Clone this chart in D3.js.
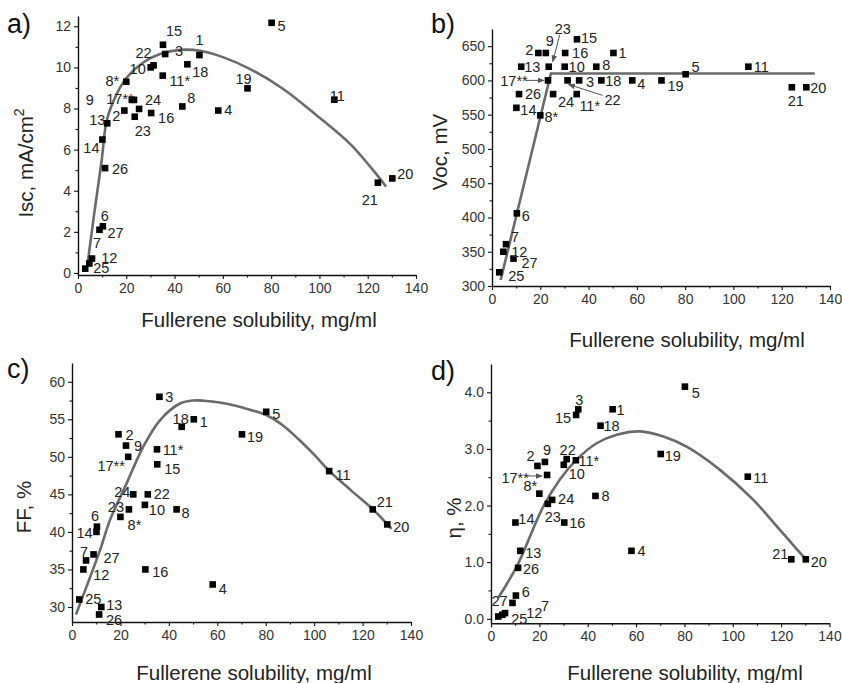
<!DOCTYPE html>
<html>
<head>
<meta charset="utf-8">
<script src="https://cdn.jsdelivr.net/npm/d3@7"></script>
<style>
body { margin: 0; background: #fff; }
svg text { font-family: "Liberation Sans", Arial, sans-serif; }
</style>
</head>
<body>
<svg id="chart" width="842" height="683"></svg>
<script>
// sample numbers and values
var samples = ["1","2","3","4","5","6","7","8","8*","9","10","11","11*","12","13","14","15","16","17**","18","19","20","21","22","23","24","25","26","27"];
var solubility = [50.3,19.2,36.1,58.1,80.2,10.3,5.8,43.2,20.0,22.3,30.1,106.2,35.1,4.7,12.1,10.1,35.2,30.3,23.2,45.3,70.2,130.2,124.2,31.3,23.5,25.3,3.0,11.2,8.9];
var isc = [10.6,7.9,10.65,7.9,12.17,2.27,0.7,8.1,9.3,8.42,10.0,8.43,9.6,0.46,7.28,6.49,11.1,7.78,8.42,10.15,8.98,4.6,4.39,10.1,7.6,7.98,0.21,5.1,2.1];
var voc = [640,640,600,600,609,406,361,620,549,640,620,620,580,350,620,560,660,640,600,600,600,590,590,600,620,580,320,580,340];
var ff = [55,53,58,33,56,40.7,36.2,43,42,51.5,43.6,48.1,51,35,30,40,49,35,50,54,53,41,43,45,43,45,31,29,37];
var eta = [3.7,2.7,3.7,1.2,4.1,0.41,0.1,2.17,2.21,2.77,2.72,2.51,2.8,0.07,1.2,1.7,3.6,1.7,2.54,3.41,2.91,1.05,1.05,2.82,2.03,2.1,0.04,0.9,0.28];

// fitted curves
var iscFitX = [3.9,6.5,9.8,11.9,16,20.2,27,34,42.3,50.5,60,71.3,85,98.9,112.7,122.3,127.6];
var iscFitY = [0.37,2.7,5.47,7.41,8.7,9.51,10.24,10.65,10.85,10.81,10.5,9.92,8.95,7.66,6.28,4.99,4.2];
var vocFitX = [3.6,24.4,133.7];
var vocFitY = [308.8,610,610];
var ffFitX = [1.65,11.6,15.7,22.6,29.5,36.4,44.6,50.1,57,65,72,80,87,94,100,106,115,124,130,132];
var ffFitY = [29,37.6,41.6,46.5,51.4,54.9,57.1,57.5,57.4,57.0,56.4,55.6,54.2,52.2,50.3,48.2,45.6,43.1,41.1,40.4];
var etaFitX = [3,10.6,21.6,28.5,35.4,43.7,52,61.6,71.3,80.9,94.7,108.5,119.5,129.2,130.6];
var etaFitY = [0.37,0.92,1.98,2.46,2.81,3.10,3.25,3.31,3.22,3.04,2.63,2.10,1.57,1.10,1.04];

var xTicks = [0,20,40,60,80,100,120,140];
var xMinor = [10,30,50,70,90,110,130];
var iscTicks = [0,2,4,6,8,10,12];
var iscMinor = [1,3,5,7,9,11];
var vocTicks = [300,350,400,450,500,550,600,650];
var vocMinor = [325,375,425,475,525,575,625];
var ffTicks = [30,35,40,45,50,55,60];
var ffMinor = [32.5,37.5,42.5,47.5,52.5,57.5];
var etaTicks = [0,1,2,3,4];
var etaMinor = [0.5,1.5,2.5,3.5];

// where each number label sits relative to its square (px)
var aLab = {"1":[0,-15],"2":[-8,5],"3":[14,-3],"4":[10,-1],"5":[10,3],"6":[2,-11],"7":[5,-16],"8":[9,-9],"8*":[-14,-1],"9":[-42,0],"10":[-13,1],"11":[3,-4],"11*":[17,5],"12":[20,-6],"13":[-10,-4],"14":[-11,8],"15":[11,-14],"16":[15,5],"17**":[-14,-1],"18":[13,7],"19":[-4,-10],"20":[13,-5],"21":[-8,17],"22":[-10,-13],"23":[8,14],"24":[14,-9],"25":[16,-1],"26":[15,1],"27":[16,3]};
var bLab = {"1":[9,0],"2":[-9,-3],"3":[11,1],"4":[9,3],"5":[10,-7],"6":[9,2],"7":[9,-7],"8":[10,-2],"8*":[11,1],"9":[4,-12],"10":[12,0],"11":[13,0],"11*":[13,12],"12":[16,0],"13":[11,0],"14":[12,2],"15":[12,-2],"16":[15,0],"17**":[-34,0],"18":[12,0],"19":[14,5],"20":[12,1],"21":[4,14],"22":[45,19],"23":[14,-38],"24":[13,8],"25":[17,3],"26":[14,0],"27":[16,4]};
var cLab = {"1":[10,2],"2":[11,0],"3":[10,0],"4":[10,4],"5":[10,2],"6":[-2,-11],"7":[-2,-9],"8":[9,3],"8*":[14,8],"9":[12,0],"10":[12,5],"11":[14,4],"11*":[16,0],"12":[18,5],"13":[13,-2],"14":[-12,1],"15":[15,4],"16":[15,2],"17**":[-17,9],"18":[-1,-8],"19":[13,2],"20":[14,2],"21":[12,-8],"22":[14,-1],"23":[-13,-3],"24":[-11,-3],"25":[14,-1],"26":[15,5],"27":[18,3]};
var dLab = {"1":[8,0],"2":[-7,-10],"3":[1,-10],"4":[10,0],"5":[11,6],"6":[10,-4],"7":[40,-7],"8":[10,0],"8*":[-9,-8],"9":[2,-12],"10":[13,9],"11":[13,1],"11*":[13,1],"12":[32,-2],"13":[13,2],"14":[11,-4],"15":[-13,3],"16":[13,0],"17**":[-32,3],"18":[11,0],"19":[12,2],"20":[13,2],"21":[-11,-6],"22":[1,-9],"23":[5,13],"24":[14,-1],"25":[21,2],"26":[13,1],"27":[-13,-2]};

var svg = d3.select("#chart");

svg.append("defs").append("marker")
    .attr("id", "head")
    .attr("viewBox", "0 0 10 10")
    .attr("refX", 9).attr("refY", 5)
    .attr("markerWidth", 7).attr("markerHeight", 7)
    .attr("orient", "auto")
    .append("path")
    .attr("d", "M0,1 L10,5 L0,9 Z")
    .attr("fill", "#555");

var panels = [
    {letter: "a)", values: isc, fitX: iscFitX, fitY: iscFitY, curve: d3.curveCatmullRom,
     xRange: [78, 416], yRange: [275, 16], yDomain: [-0.1, 12.5], ticks: iscTicks, minor: iscMinor,
     letterPos: [7, 33], xTitlePos: [259, 327], yTitlePos: [33, 163], yTitle: "Isc, mA/cm", sup: "2",
     lab: aLab, arrows: []},
    {letter: "b)", values: voc, fitX: vocFitX, fitY: vocFitY, curve: d3.curveLinear,
     xRange: [492, 830], yRange: [286, 29], yDomain: [300, 675], ticks: vocTicks, minor: vocMinor,
     letterPos: [431, 33], xTitlePos: [687, 347], yTitlePos: [447, 152], yTitle: "Voc, mV", sup: "",
     lab: bLab, arrows: [{id: "17**", from: [-22, 0], to: [-4, 0]}, {id: "22", from: [35, 15], to: [1, 4]}, {id: "23", from: [11, -32], to: [4, -5]}]},
    {letter: "c)", values: ff, fitX: ffFitX, fitY: ffFitY, curve: d3.curveCatmullRom,
     xRange: [72, 411], yRange: [622, 363], yDomain: [28, 62.5], ticks: ffTicks, minor: ffMinor,
     letterPos: [7, 378], xTitlePos: [254, 680], yTitlePos: [31, 507], yTitle: "FF, %", sup: "",
     lab: cLab, arrows: []},
    {letter: "d)", values: eta, fitX: etaFitX, fitY: etaFitY, curve: d3.curveCatmullRom,
     xRange: [491, 829.5], yRange: [623.3, 364], yDomain: [-0.08, 4.5], ticks: etaTicks, minor: etaMinor,
     letterPos: [431, 380], xTitlePos: [685, 680], yTitlePos: [461, 518], yTitle: "η, %", sup: "",
     lab: dLab, arrows: [{id: "17**", from: [-20, 1], to: [-5, 1]}]}
];

function drawPanel(p) {
    var x = d3.scaleLinear().domain([0, 140]).range(p.xRange);
    var y = d3.scaleLinear().domain(p.yDomain).range(p.yRange);
    var g = svg.append("g");

    // axes
    g.append("g").attr("transform", "translate(0," + p.yRange[0] + ")")
        .call(d3.axisBottom(x).tickValues(xTicks).tickSize(4).tickSizeOuter(0).tickPadding(4));
    g.append("g").attr("transform", "translate(0," + p.yRange[0] + ")")
        .call(d3.axisBottom(x).tickValues(xMinor).tickSize(2.5).tickSizeOuter(0).tickFormat(""))
        .select(".domain").remove();
    g.append("g").attr("transform", "translate(" + p.xRange[0] + ",0)")
        .call(d3.axisLeft(y).tickValues(p.ticks).tickSize(4).tickSizeOuter(0).tickPadding(3));
    g.append("g").attr("transform", "translate(" + p.xRange[0] + ",0)")
        .call(d3.axisLeft(y).tickValues(p.minor).tickSize(2.5).tickSizeOuter(0).tickFormat(""))
        .select(".domain").remove();
    g.selectAll(".domain").attr("stroke", "#111").attr("stroke-width", 1.4);
    g.selectAll(".tick line").attr("stroke", "#111").attr("stroke-width", 1.1);
    g.selectAll(".tick text").attr("font-size", 14).attr("fill", "#333")
        .attr("font-family", "'Liberation Sans', Arial, sans-serif");

    // fitted curve
    var pts = p.fitX.map(function (v, i) { return [v, p.fitY[i]]; });
    g.append("path")
        .attr("d", d3.line().x(function (d) { return x(d[0]); }).y(function (d) { return y(d[1]); }).curve(p.curve)(pts))
        .attr("fill", "none")
        .attr("stroke", "#6a6a6a")
        .attr("stroke-width", 2.6);

    var data = samples.map(function (s, i) { return {id: s, px: x(solubility[i]), py: y(p.values[i])}; });
    var byId = {};
    data.forEach(function (d) { byId[d.id] = d; });

    // arrows
    p.arrows.forEach(function (a) {
        var d = byId[a.id];
        g.append("line")
            .attr("x1", d.px + a.from[0]).attr("y1", d.py + a.from[1])
            .attr("x2", d.px + a.to[0]).attr("y2", d.py + a.to[1])
            .attr("stroke", "#555").attr("stroke-width", 1)
            .attr("marker-end", "url(#head)");
    });

    g.selectAll("rect.pt").data(data).enter().append("rect")
        .attr("class", "pt")
        .attr("x", function (d) { return d.px - 3.3; })
        .attr("y", function (d) { return d.py - 3.3; })
        .attr("width", 6.6).attr("height", 6.6)
        .attr("fill", "#000");

    g.selectAll("text.lab").data(data).enter().append("text")
        .attr("class", "lab")
        .attr("x", function (d) { return d.px + p.lab[d.id][0]; })
        .attr("y", function (d) { return d.py + p.lab[d.id][1]; })
        .attr("dy", "0.36em")
        .attr("text-anchor", "middle")
        .attr("font-size", 14.5)
        .attr("fill", "#222")
        .text(function (d) { return d.id; });

    // titles
    g.append("text").attr("x", p.letterPos[0]).attr("y", p.letterPos[1])
        .attr("font-size", 27).attr("fill", "#111").text(p.letter);
    g.append("text").attr("x", p.xTitlePos[0]).attr("y", p.xTitlePos[1])
        .attr("text-anchor", "middle").attr("font-size", 20.5).attr("fill", "#222")
        .text("Fullerene solubility, mg/ml");
    var yt = g.append("text")
        .attr("transform", "translate(" + p.yTitlePos[0] + "," + p.yTitlePos[1] + ") rotate(-90)")
        .attr("text-anchor", "middle").attr("font-size", 20.5).attr("fill", "#222");
    yt.append("tspan").text(p.yTitle);
    if (p.sup) {
        yt.append("tspan").attr("font-size", 14).attr("dy", -9).text(p.sup);
    }
}

panels.forEach(drawPanel);
</script>
</body>
</html>
